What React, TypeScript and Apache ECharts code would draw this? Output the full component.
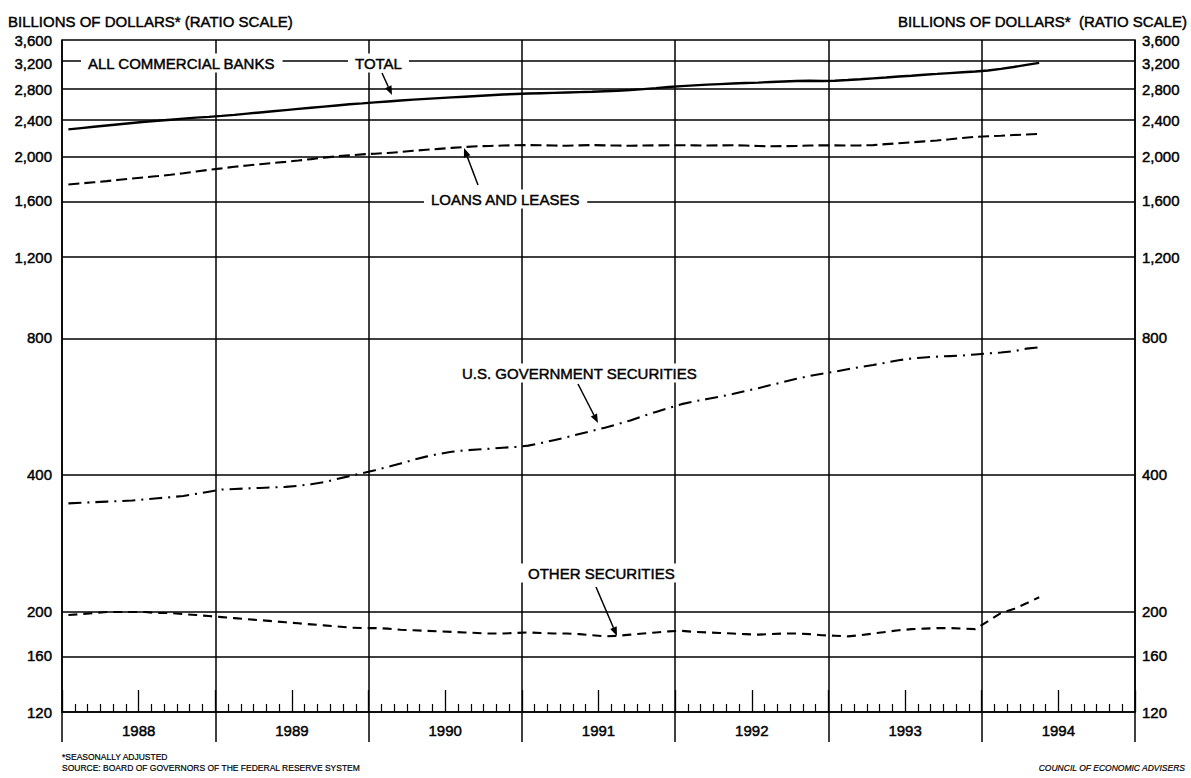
import React, { useEffect, useRef } from "react";
import * as echarts from "echarts";

// ---- Data (billions of dollars, monthly, Jan 1988 – May 1994) ----
const START_YEAR = 1988;
const END_YEAR = 1995;
const yTickValues = [120, 160, 200, 400, 800, 1200, 1600, 2000, 2400, 2800, 3200, 3600];

const totalValues = [
  2290, 2305, 2320, 2335, 2350, 2365, 2380, 2392, 2405, 2418, 2430, 2440,
  2452, 2465, 2480, 2495, 2510, 2525, 2540, 2555, 2570, 2585, 2600, 2612,
  2625, 2638, 2650, 2662, 2672, 2682, 2692, 2702, 2712, 2722, 2732, 2740,
  2745, 2750, 2755, 2760, 2765, 2770, 2778, 2785, 2795, 2808, 2822, 2838,
  2850, 2862, 2872, 2880, 2888, 2895, 2902, 2910, 2918, 2925, 2928, 2925,
  2930, 2940, 2952, 2965, 2978, 2992, 3005, 3020, 3032, 3045, 3058, 3070,
  3085, 3110, 3140, 3175, 3206,
];

const loansValues = [
  1733, 1742, 1752, 1762, 1775, 1786, 1797, 1808, 1820, 1834, 1850, 1866,
  1880, 1895, 1908, 1920, 1932, 1943, 1956, 1970, 1985, 1998, 2008, 2018,
  2025, 2032, 2042, 2055, 2065, 2075, 2085, 2095, 2102, 2106, 2110, 2113,
  2115, 2113, 2110, 2108, 2112, 2115, 2112, 2110, 2108, 2110, 2112, 2113,
  2114, 2112, 2110, 2112, 2114, 2110, 2105, 2102, 2104, 2106, 2110, 2112,
  2112, 2110, 2112, 2115, 2125, 2135, 2145, 2155, 2165, 2178, 2192, 2205,
  2212, 2218, 2225, 2232, 2239,
];

const usGovValues = [
  345, 346, 347, 348, 349, 350, 352, 354, 356, 358, 362, 366,
  370, 371, 372, 373, 374, 375, 377, 380, 384, 390, 396, 402,
  408, 415, 422, 430, 437, 443, 448, 451, 453, 455, 457, 459,
  462, 468, 475, 482, 490, 498, 506, 515, 525, 537, 548, 559,
  570, 578, 585, 592, 600, 609, 618, 628, 638, 648, 657, 665,
  672, 680, 688, 695, 703, 712, 718, 722, 725, 727, 729, 733,
  737, 740, 745, 755, 760,
];

const otherValues = [
  196, 197, 198, 199, 199, 199, 199, 198, 198, 197, 196, 195,
  194, 193, 192, 191, 190, 189, 188, 187, 186, 185, 184, 183.5,
  183.5, 183, 182, 181.5, 181, 180.5, 180, 179.5, 179, 178.5, 178.5, 179,
  179.5, 179, 178.5, 178.5, 178, 177, 176, 176.5, 177.5, 178.5, 179.5, 180.5,
  181, 180, 179.5, 179, 178.5, 178, 177.5, 178, 178.5, 178.5, 178, 177,
  176.5, 176, 177, 178.5, 180, 181.5, 182.5, 183, 183.5, 183.5, 183, 182.5,
  190, 198, 202, 208, 214.5,
];

const FONT = "'Liberation Sans', Arial, sans-serif";
const TEXT_STROKE = 0.45;

const monthPos = (i: number) => START_YEAR + (i + 0.5) / 12;
const toSeries = (vals: number[]) => vals.map((v, i) => [monthPos(i), Math.log10(v)]);

function arrow(x1: number, y1: number, x2: number, y2: number) {
  const dx = x2 - x1;
  const dy = y2 - y1;
  const len = Math.hypot(dx, dy);
  const ux = dx / len;
  const uy = dy / len;
  const hl = 9;
  const hw = 3.5;
  const bx = x2 - ux * hl;
  const by = y2 - uy * hl;
  return [
    {
      type: "line",
      z: 100,
      shape: { x1, y1, x2: bx, y2: by },
      style: { stroke: "#000", lineWidth: 1.5 },
    },
    {
      type: "polygon",
      z: 100,
      shape: {
        points: [
          [x2, y2],
          [bx - uy * hw, by + ux * hw],
          [bx + uy * hw, by - ux * hw],
        ],
      },
      style: { fill: "#000" },
    },
  ];
}

function label(text: string, x: number, y: number, align = "left", size = 15, bg = true, style: any = {}) {
  return {
    type: "text",
    z: 100,
    x,
    y,
    style: {
      text,
      fill: "#000",
      fontSize: size,
      fontFamily: FONT,
      align,
      verticalAlign: "middle",
      stroke: "#000",
      lineWidth: size > 10 ? TEXT_STROKE : 0.2,
      ...(bg ? { backgroundColor: "#fff", padding: [2, 7] } : {}),
      ...style,
    },
  };
}

export default function App() {
  const ref = useRef<HTMLDivElement>(null);

  useEffect(() => {
    if (!ref.current) return;
    const chart = echarts.init(ref.current, undefined, { renderer: "svg" });
    const LOG_MIN = Math.log10(yTickValues[0]);
    const LOG_MAX = Math.log10(yTickValues[yTickValues.length - 1]);

    const yAxisBase = (pos: string, margin: number) => ({
      type: "value",
      min: LOG_MIN,
      max: LOG_MAX,
      position: pos,
      axisLine: { show: false },
      axisTick: { show: false },
      splitLine: { show: false },
      axisLabel: {
        customValues: yTickValues.map((v) => Math.log10(v)),
        formatter: (v: number) => Math.round(Math.pow(10, v)).toLocaleString("en-US"),
        color: "#000",
        fontSize: 15,
        fontFamily: FONT,
        textBorderColor: "#000",
        textBorderWidth: TEXT_STROKE,
        margin,
      },
    });

    const lineSeries = (name: string, vals: number[], type: any, width: number) => ({
      type: "line",
      name,
      data: toSeries(vals),
      xAxisIndex: 0,
      yAxisIndex: 0,
      symbol: "none",
      showSymbol: false,
      z: 5,
      silent: true,
      lineStyle: { color: "#000", width, type },
      emphasis: { disabled: true },
    });

    const graphics: any[] = [
      label("BILLIONS OF DOLLARS* (RATIO SCALE)", 8, 21, "left", 15, false),
      label("BILLIONS OF DOLLARS*  (RATIO SCALE)", 1187, 21, "right", 15, false),
      label("ALL COMMERCIAL BANKS", 81, 63),
      label("TOTAL", 348, 63),
      label("LOANS AND LEASES", 424, 199),
      label("U.S. GOVERNMENT SECURITIES", 455, 373),
      label("OTHER SECURITIES", 521, 573),
      ...arrow(382, 73, 392, 95),
      ...arrow(478, 185, 464, 148),
      ...arrow(578, 384, 598, 423),
      ...arrow(596, 587, 617, 636),
      label("*SEASONALLY ADJUSTED", 62, 757, "left", 8.5, false),
      label("SOURCE: BOARD OF GOVERNORS OF THE FEDERAL RESERVE SYSTEM", 62, 768, "left", 8.5, false),
      label("COUNCIL OF ECONOMIC ADVISERS", 1185, 768, "right", 8.5, false, { fontStyle: "italic" }),
    ];

    chart.setOption({
      animation: false,
      backgroundColor: "#fff",
      grid: {
        left: 62,
        right: 56,
        top: 40,
        bottom: 66,
        show: true,
        borderColor: "#000",
        borderWidth: 1.5,
        backgroundColor: "transparent",
        containLabel: false,
        outerBoundsMode: "none",
      },
      xAxis: [
        {
          type: "value",
          min: START_YEAR,
          max: END_YEAR,
          interval: 1,
          position: "bottom",
          axisLine: { show: true, lineStyle: { color: "#000", width: 1.5 } },
          axisTick: { show: true, inside: false, length: 30, lineStyle: { color: "#000", width: 1.5 } },
          axisLabel: { show: false },
          splitLine: { show: true, lineStyle: { color: "#000", width: 1.5 } },
        },
        {
          type: "value",
          min: START_YEAR,
          max: END_YEAR,
          interval: 0.5,
          position: "bottom",
          axisLine: { show: false },
          axisTick: { show: true, inside: true, length: 22, lineStyle: { color: "#000", width: 1.3 } },
          minorTick: { show: true, splitNumber: 6, length: 8, lineStyle: { color: "#000", width: 1.2 } },
          axisLabel: {
            show: true,
            margin: 11,
            color: "#000",
            fontSize: 15,
            fontFamily: FONT,
            textBorderColor: "#000",
            textBorderWidth: TEXT_STROKE,
            formatter: (v: number) => {
              const f = v - Math.floor(v);
              return Math.abs(f - 0.5) < 1e-6 ? String(Math.floor(v)) : "";
            },
          },
          splitLine: { show: false },
        },
      ],
      yAxis: [yAxisBase("left", 10), yAxisBase("right", 7)],
      series: [
        {
          type: "line",
          name: "gridlines",
          data: [],
          xAxisIndex: 0,
          yAxisIndex: 0,
          silent: true,
          z: 1,
          markLine: {
            silent: true,
            animation: false,
            symbol: ["none", "none"],
            label: { show: false },
            lineStyle: { color: "#000", width: 1.5, type: "solid" },
            data: yTickValues.slice(1, -1).map((v) => ({ yAxis: Math.log10(v) })),
          },
        },
        lineSeries("Total", totalValues, "solid", 2.4),
        lineSeries("Loans and leases", loansValues, [11, 5], 2.1),
        lineSeries("U.S. Government securities", usGovValues, [13, 6, 2, 6], 2.1),
        lineSeries("Other securities", otherValues, [9, 6], 2.1),
      ],
      graphic: graphics,
    });

    return () => chart.dispose();
  }, []);

  return (
    <div
      ref={ref}
      style={{ position: "fixed", left: 0, top: 0, width: 1191, height: 778, background: "#fff" }}
    />
  );
}
